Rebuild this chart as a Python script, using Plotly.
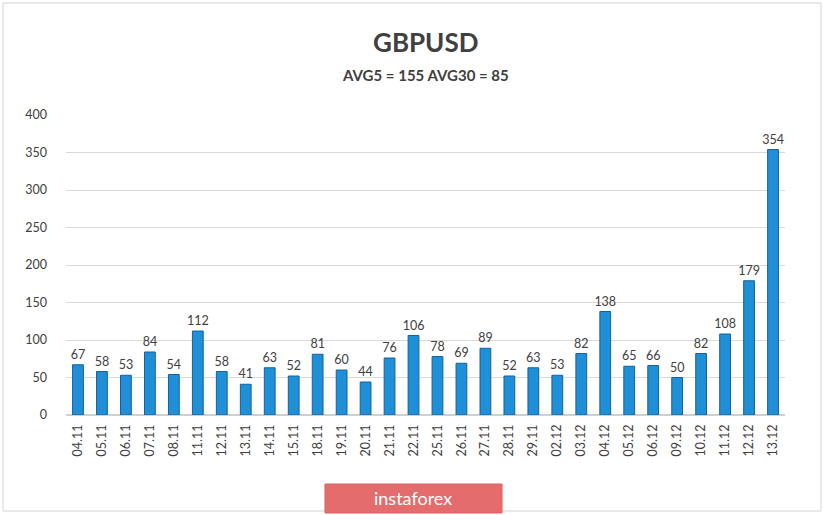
import plotly.graph_objects as go

dates = ["04.11","05.11","06.11","07.11","08.11","11.11","12.11","13.11","14.11","15.11",
         "18.11","19.11","20.11","21.11","22.11","25.11","26.11","27.11","28.11","29.11",
         "02.12","03.12","04.12","05.12","06.12","09.12","10.12","11.12","12.12","13.12"]
values = [67,58,53,84,54,112,58,41,63,52,81,60,44,76,106,78,69,89,52,63,53,82,138,65,66,50,82,108,179,354]
title = "GBPUSD"
subtitle = "AVG5 = 155 AVG30 = 85"
y_ticks = [0,50,100,150,200,250,300,350,400]

W, H = 825, 515
L, R, T, B = 66, 40, 115, 100
pw, ph = W - L - R, H - T - B

def px(x): return (x - L) / pw
def py(y): return (H - B - y) / ph

fig = go.Figure(go.Bar(
    x=dates, y=values, text=[str(v) for v in values], textposition="outside",
    textfont=dict(size=12.5, color="#404040"), constraintext="none",
    marker=dict(color="#1f8fd8", line=dict(color="#17609a", width=1)),
    cliponaxis=False, width=0.45,
))
fig.update_layout(
    width=W, height=H, margin=dict(l=L, r=R, t=T, b=B),
    paper_bgcolor="white", plot_bgcolor="white",
    font=dict(family="Lato, Open Sans, sans-serif", color="#404040"),
    showlegend=False,
    xaxis=dict(tickangle=-90, tickfont=dict(size=12.5, color="#404040"), showgrid=False,
               showline=False, ticks="", range=[-0.5, 29.5], ticklabelstandoff=6),
    yaxis=dict(range=[0, 400], tickvals=y_ticks, tickfont=dict(size=12.5, color="#404040"),
               gridcolor="#d9d9d9", gridwidth=1, zeroline=True, zerolinecolor="#d0d0d0",
               ticks="", ticklen=0, showline=False, ticklabelstandoff=18),
    annotations=[
        dict(text="<b>"+title+"</b>", x=0.5, xref="paper", y=py(42), yref="paper", yanchor="middle",
             showarrow=False, font=dict(size=26, color="#404040")),
        dict(text="<b>"+subtitle+"</b>", x=0.5, xref="paper", y=py(75), yref="paper", yanchor="middle",
             showarrow=False, font=dict(size=15, color="#404040")),
        dict(text="instaforex", x=px(413), xref="paper", y=py(498), yref="paper", yanchor="middle",
             showarrow=False, font=dict(size=18, color="white")),
    ],
    shapes=[
        dict(type="rect", xref="paper", yref="paper", x0=px(3), x1=px(821), y0=py(511), y1=py(3),
             line=dict(color="#d4d4d4", width=1), fillcolor="rgba(0,0,0,0)", layer="below"),
        dict(type="rect", xref="paper", yref="paper", x0=px(325), x1=px(502), y0=py(513), y1=py(484),
             line=dict(color="#d86060", width=1), fillcolor="#e46c6c", layer="above"),
    ],
)
fig.write_html("out.html", config={"displayModeBar": False},
               post_script="document.body.style.margin='0px';document.body.style.overflow='hidden';")
